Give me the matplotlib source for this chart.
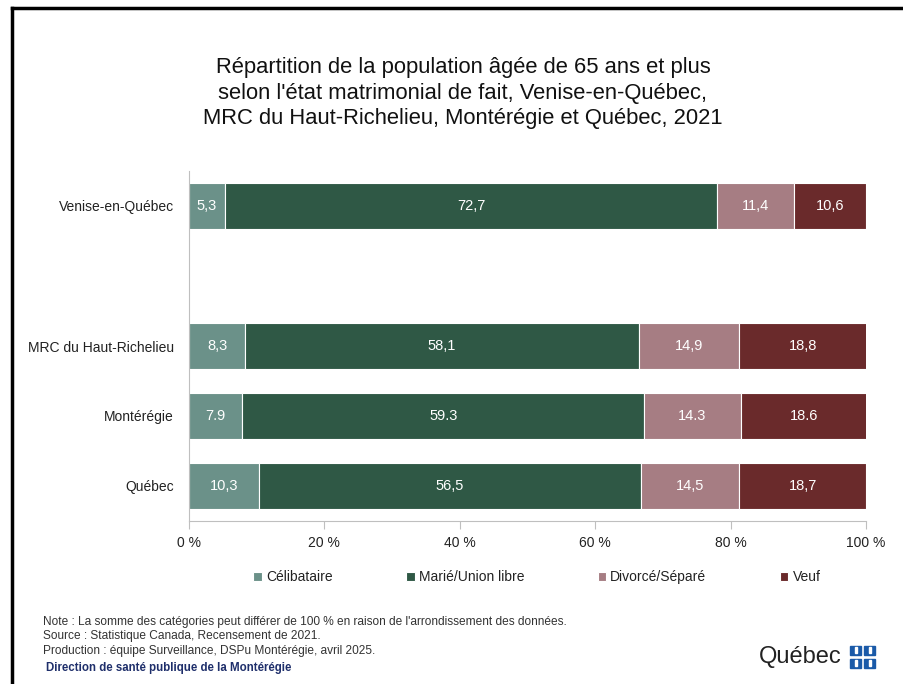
import matplotlib
matplotlib.use("Agg")
import matplotlib.pyplot as plt
from matplotlib.patches import Rectangle
from matplotlib.lines import Line2D
import numpy as np

plt.rcParams['font.family'] = ['Liberation Sans', 'DejaVu Sans']

regions = ["Québec", "Montérégie", "MRC du Haut-Richelieu", "", "Venise-en-Québec"]
series = ["Célibataire", "Marié/Union libre", "Divorcé/Séparé", "Veuf"]
celibataire = [10.3, 7.9, 8.3, 0, 5.3]
marie = [56.5, 59.3, 58.1, 0, 72.7]
divorce = [14.5, 14.3, 14.9, 0, 11.4]
veuf = [18.7, 18.6, 18.8, 0, 10.6]
decimal_sep = [",", ".", ",", ",", ","]
colors = ["#6b9189", "#2f5845", "#a67d83", "#6a2a2b"]
xticks = [0, 20, 40, 60, 80, 100]

fig = plt.figure(figsize=(9.04, 6.84), dpi=100)
ax = fig.add_axes([189/904, 1-521/684, (866-189)/904, 350/684])

y = np.arange(len(regions))
left = np.zeros(len(regions))
for name, vals, col in zip(series, [celibataire, marie, divorce, veuf], colors):
    vals = np.array(vals)
    mask = vals > 0
    ax.barh(y[mask], vals[mask], left=left[mask], height=0.66, color=col,
            edgecolor="white", linewidth=0.8, label=name)
    for yi, v, l in zip(y[mask], vals[mask], left[mask]):
        txt = f"{v:.1f}".replace(".", decimal_sep[yi])
        ax.text(l + v/2, yi, txt, ha="center", va="center", color="white", fontsize=10.5)
    left = left + vals

ax.set_xlim(0, 100)
ax.set_ylim(-0.5, 4.5)
ax.set_yticks([0, 1, 2, 4])
ax.set_yticklabels([regions[i] for i in [0, 1, 2, 4]], fontsize=10, color="#222222")
ax.tick_params(axis="y", length=0, pad=11)
ax.set_xticks(xticks)
ax.set_xticklabels([f"{t} %" for t in xticks], fontsize=10, color="#222222")
ax.tick_params(axis="x", length=6, color="#bfbfbf", pad=5)
for s in ["top", "right"]:
    ax.spines[s].set_visible(False)
ax.spines["left"].set_color("#bfbfbf")
ax.spines["bottom"].set_color("#bfbfbf")

leg = fig.legend(loc="center", bbox_to_anchor=(537/904, 1-577/684), ncol=4, frameon=False,
                 fontsize=10, handlelength=0.6, handleheight=0.6, handletextpad=0.3,
                 columnspacing=5.3)
for t in leg.get_texts():
    t.set_color("#222222")

fig.text(463/904, 1-93/684,
         "Répartition de la population âgée de 65 ans et plus\n"
         "selon l'état matrimonial de fait, Venise-en-Québec,\n"
         "MRC du Haut-Richelieu, Montérégie et Québec, 2021",
         ha="center", va="center", fontsize=15.8, linespacing=1.27, color="#111111")

foot = ["Note : La somme des catégories peut différer de 100 % en raison de l'arrondissement des données.",
        "Source : Statistique Canada, Recensement de 2021.",
        "Production : équipe Surveillance, DSPu Montérégie, avril 2025."]
for i, t in enumerate(foot):
    fig.text(43/904, 1-(622+14.5*i)/684, t, ha="left", va="center", fontsize=8.6, color="#333333")
fig.text(46/904, 1-668/684, "Direction de santé publique de la Montérégie", ha="left", va="center",
         fontsize=8.3, color="#1f2f6b", weight="bold")

# Québec logo
fig.text(800/904, 1-657/684, "Québec", ha="center", va="center", fontsize=17, color="#222222")
for (cx, cy) in [(856, 650), (870, 650), (856, 663), (870, 663)]:
    fig.add_artist(Rectangle(((cx-5.5)/904, 1-(cy+4.5)/684), 11/904, 9/684,
                             transform=fig.transFigure, color="#1a5aa8"))
    fig.add_artist(Rectangle(((cx-1)/904, 1-(cy+3)/684), 2/904, 6/684,
                             transform=fig.transFigure, color="white"))

# frame (top & left)
fig.add_artist(Line2D([12/904, 12/904], [0, 1-8/684], transform=fig.transFigure, color="black", lw=2.5))
fig.add_artist(Line2D([12/904, 1], [1-8/684, 1-8/684], transform=fig.transFigure, color="black", lw=2.5))

fig.savefig("out.png", dpi=100)
